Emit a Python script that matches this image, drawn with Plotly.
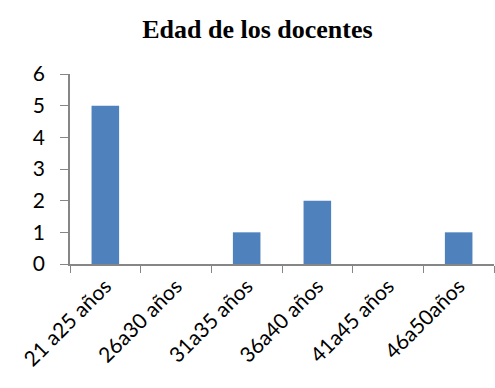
import plotly.graph_objects as go

# Number of teachers per age group
categories = ["21 a25 años", "26a30 años", "31a35 años", "36a40 años", "41a45 años", "46a50años"]
counts = [5, 0, 1, 2, 0, 1]

fig = go.Figure(
    go.Bar(
        x=categories,
        y=counts,
        marker=dict(color="#4F81BD", line=dict(width=0)),
        width=0.39,
    )
)

axis_font = dict(family="Lato, Open Sans, sans-serif", size=21, color="#000000")

fig.update_layout(
    width=495,
    height=388,
    margin=dict(l=70, r=1, t=74, b=124),
    paper_bgcolor="white",
    plot_bgcolor="white",
    showlegend=False,
    title=dict(
        text="<b>Edad de los docentes</b>",
        font=dict(family="Liberation Serif, Times New Roman, serif", size=26, color="#000000"),
        x=0.52,
        xanchor="center",
        y=0.925,
        yanchor="middle",
    ),
    xaxis=dict(
        type="category",
        tickangle=-45,
        tickson="boundaries",
        ticks="outside",
        ticklen=7,
        tickcolor="#868686",
        showline=True,
        linecolor="#868686",
        linewidth=1.5,
        showgrid=False,
        tickfont=axis_font,
    ),
    yaxis=dict(
        range=[0, 6],
        dtick=1,
        ticks="outside",
        ticklen=8,
        tickcolor="#868686",
        showline=True,
        linecolor="#868686",
        linewidth=1.5,
        showgrid=False,
        zeroline=False,
        tickfont=axis_font,
        ticklabelstandoff=11,
    ),
)

fig.write_html("out.html")
